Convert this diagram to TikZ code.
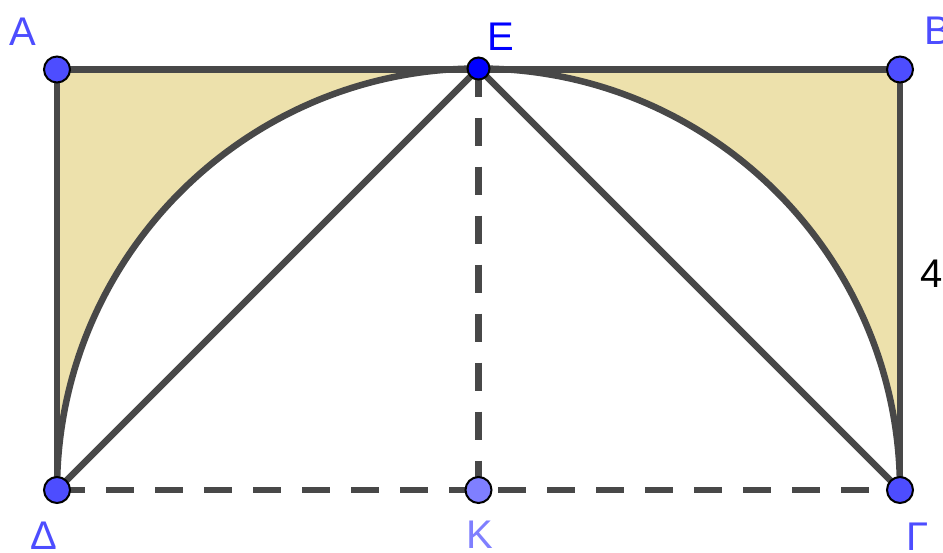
\documentclass[tikz,border=0pt]{standalone}
\usepackage{fontspec}
\setmainfont{Liberation Sans}
\definecolor{linec}{RGB}{72,72,72}
\definecolor{fillc}{RGB}{237,225,172}
\definecolor{ptc}{RGB}{77,77,255}
\definecolor{ptE}{RGB}{0,0,255}
\definecolor{ptK}{RGB}{127,127,255}
\tikzset{
  seg/.style={draw=linec, line width=6.5pt},
  dseg/.style={draw=linec, line width=6.5pt, dash pattern=on 28pt off 21pt},
  pt/.style={circle, draw=black, line width=2pt, fill=ptc, minimum size=26pt, inner sep=0pt},
  lbl/.style={anchor=base, font=\fontsize{40}{40}\selectfont, inner sep=0pt}
}
\begin{document}
\begin{tikzpicture}[x=1pt,y=-1pt]
\useasboundingbox (0,0) rectangle (943,552);
\coordinate (A) at (57,69.5);
\coordinate (B) at (900,69.5);
\coordinate (E) at (478.5,68.5);
\coordinate (D) at (57,490);
\coordinate (K) at (478.5,490);
\coordinate (G) at (900,490);
% shaded regions
\fill[fillc] (D) -- (A) -- (E) arc[start angle=270, end angle=180, radius=421.5] -- cycle;
\fill[fillc] (E) -- (B) -- (G) arc[start angle=360, end angle=270, radius=421.5] -- cycle;
% dashed segments
\path[dseg] (D) -- (G);
\path[dseg] (E) -- (K);
% rectangle sides
\path[seg] (D) -- (A) -- (B) -- (G);
% semicircle
\path[seg] (D) arc[start angle=180, end angle=360, radius=421.5];
% chords
\path[seg] (D) -- (E) -- (G);
% points
\node[pt] (pA) at (A) {};
\node[pt] (pB) at (B) {};
\node[pt] (pD) at (D) {};
\node[pt] (pG) at (G) {};
\node[pt, fill=ptK] (pK) at (K) {};
\node[pt, fill=ptE, minimum size=22pt] (pE) at (E) {};
% labels
\node[lbl, text=ptc] (lA) at (22.5,45) {A};
\node[lbl, text=ptE] (lE) at (501,50) {E};
\node[lbl, text=ptc] (lB) at (938,44) {B};
\node[lbl, text=black] (l4) at (932,287) {4};
\node[lbl, text=ptc] (lD) at (43.5,549) {Δ};
\node[lbl, text=ptK] (lK) at (480,548) {K};
\node[lbl, text=ptc] (lG) at (918,550) {Γ};
\end{tikzpicture}
\end{document}
